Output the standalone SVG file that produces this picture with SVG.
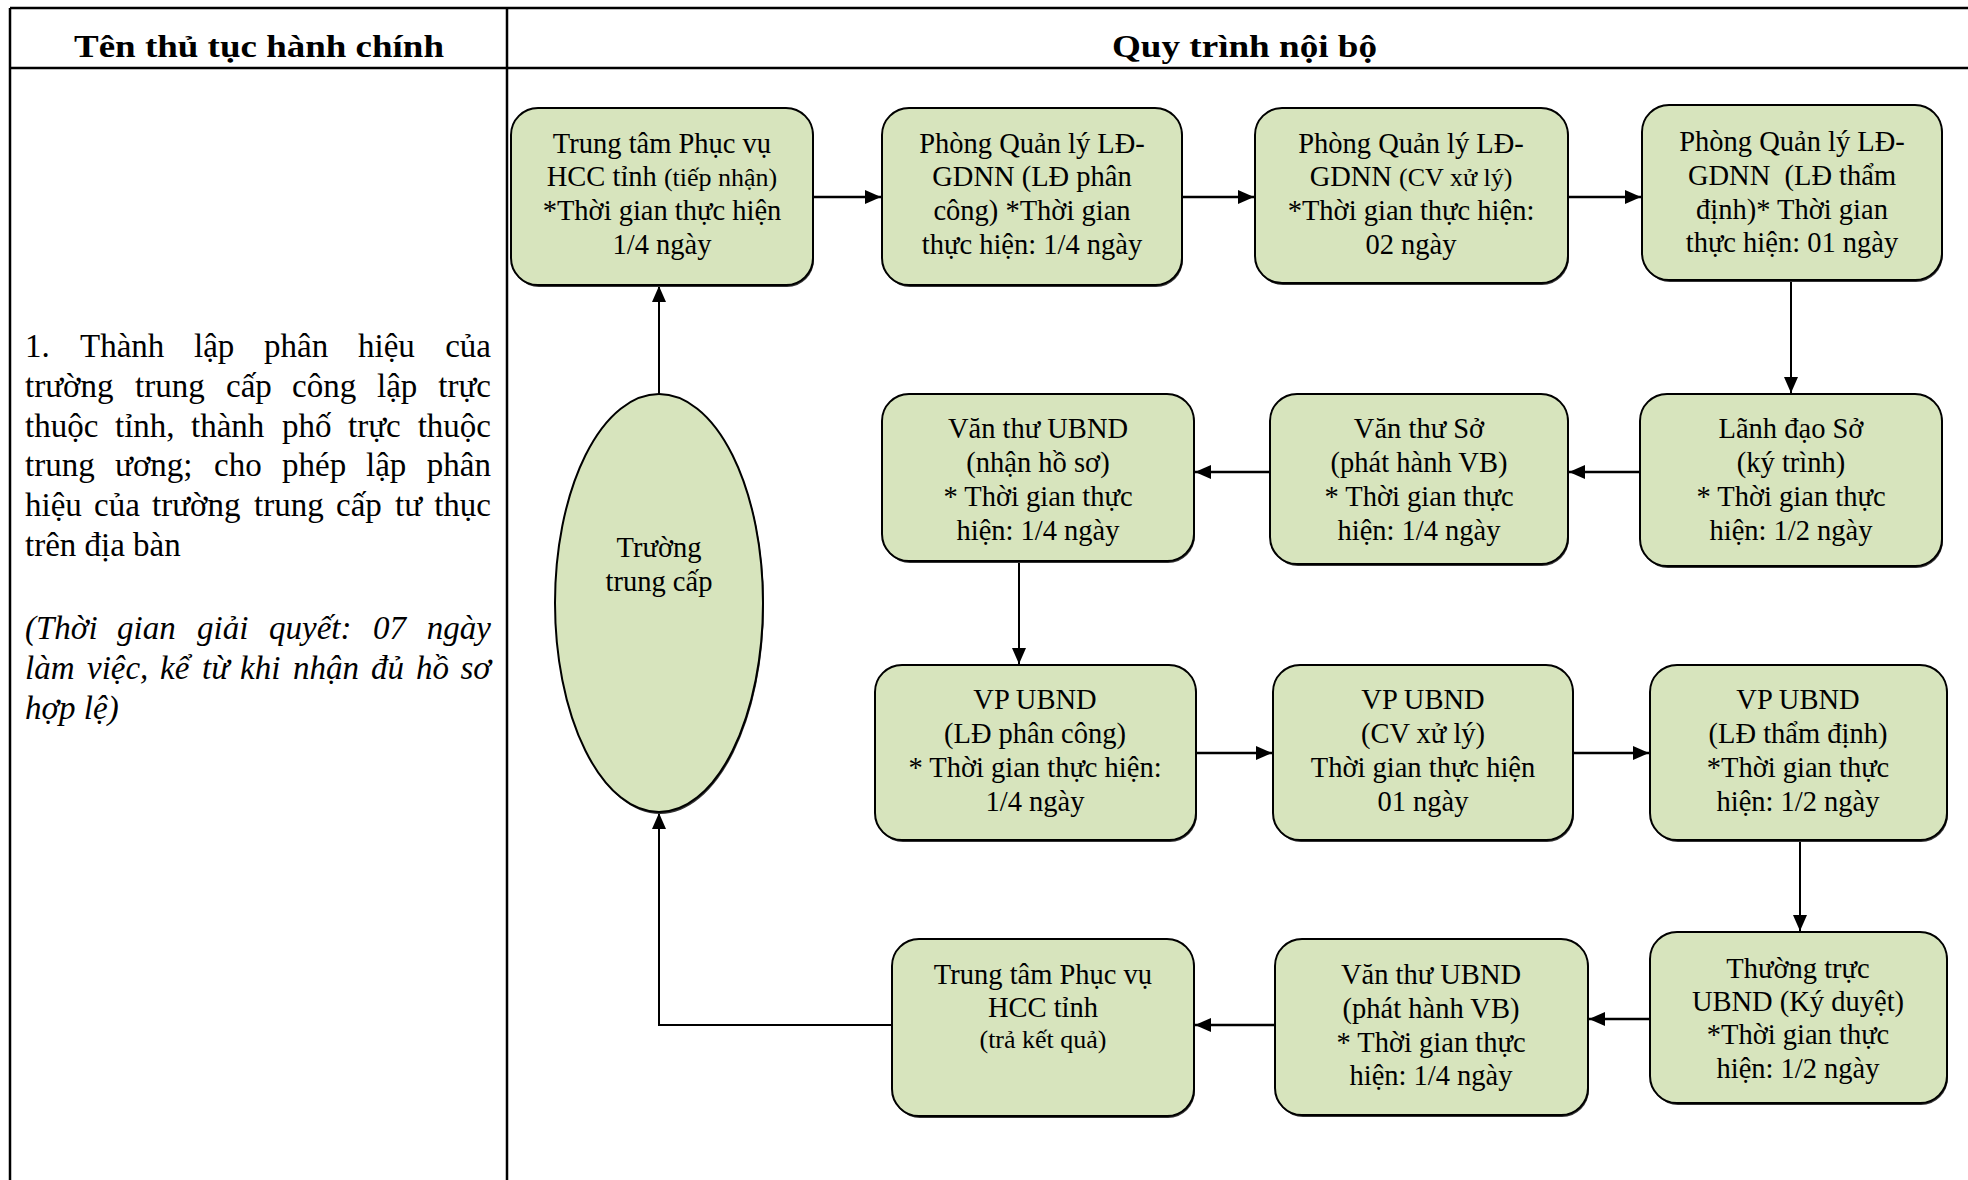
<svg xmlns="http://www.w3.org/2000/svg" width="1968" height="1180" viewBox="0 0 1968 1180">
<defs>
<style>
.tbl{stroke:#000;stroke-width:2.5;fill:none}
.hd{font-family:"Liberation Serif","Times New Roman",serif;font-weight:bold;font-size:31px;fill:#000}
.lt{font-family:"Liberation Serif","Times New Roman",serif;font-size:33px;fill:#000}
.it{font-style:italic}
.e{text-anchor:end}
.box{fill:#d7e4bd;stroke:#000;stroke-width:2}
.sh{fill:#333;stroke:none}
.t{font-family:"Liberation Serif","Times New Roman",serif;font-size:28.5px;fill:#000;text-anchor:middle}
.s{font-size:26px}
.c{stroke:#000;stroke-width:2.5;fill:none}
.cv{stroke:#000;stroke-width:2;fill:none}
</style>
<marker id="ah" markerUnits="userSpaceOnUse" markerWidth="16" markerHeight="14" viewBox="0 0 16 14" refX="16" refY="7" orient="auto">
<path d="M0,0 L16,7 L0,14 z" fill="#000"/>
</marker>
</defs>
<rect width="1968" height="1180" fill="#fff"/>
<g id="table">
<line class="tbl" x1="10" y1="8" x2="1968" y2="8"/>
<line class="tbl" x1="10" y1="68" x2="1968" y2="68"/>
<line class="tbl" x1="10" y1="8" x2="10" y2="1180"/>
<line class="tbl" x1="507" y1="8" x2="507" y2="1180"/>
<text class="hd" x="74" y="57" textLength="370" lengthAdjust="spacingAndGlyphs">Tên thủ tục hành chính</text>
<text class="hd" x="1112" y="57" textLength="265" lengthAdjust="spacingAndGlyphs">Quy trình nội bộ</text>
</g>
<g id="procedure">
<text class="lt" y="357"><tspan x="25">1.</tspan><tspan x="80">Thành</tspan><tspan x="194">lập</tspan><tspan x="264">phân</tspan><tspan x="358">hiệu</tspan><tspan x="491" class="e">của</tspan></text>
<text class="lt" y="397"><tspan x="25">trường</tspan><tspan x="135">trung</tspan><tspan x="226">cấp</tspan><tspan x="292">công</tspan><tspan x="377">lập</tspan><tspan x="491" class="e">trực</tspan></text>
<text class="lt" y="437"><tspan x="25">thuộc</tspan><tspan x="115">tỉnh,</tspan><tspan x="191">thành</tspan><tspan x="282">phố</tspan><tspan x="348">trực</tspan><tspan x="491" class="e">thuộc</tspan></text>
<text class="lt" y="476"><tspan x="25">trung</tspan><tspan x="115">ương;</tspan><tspan x="214">cho</tspan><tspan x="282">phép</tspan><tspan x="366">lập</tspan><tspan x="491" class="e">phân</tspan></text>
<text class="lt" y="516"><tspan x="25">hiệu</tspan><tspan x="94">của</tspan><tspan x="152">trường</tspan><tspan x="254">trung</tspan><tspan x="336">cấp</tspan><tspan x="395">tư</tspan><tspan x="491" class="e">thục</tspan></text>
<text class="lt" x="25" y="556">trên địa bàn</text>
<text class="lt it" y="639"><tspan x="25">(Thời</tspan><tspan x="117">gian</tspan><tspan x="197">giải</tspan><tspan x="269">quyết:</tspan><tspan x="373">07</tspan><tspan x="491" class="e">ngày</tspan></text>
<text class="lt it" y="679"><tspan x="25">làm</tspan><tspan x="87">việc,</tspan><tspan x="160">kể</tspan><tspan x="202">từ</tspan><tspan x="240">khi</tspan><tspan x="293">nhận</tspan><tspan x="371">đủ</tspan><tspan x="416">hồ</tspan><tspan x="491" class="e">sơ</tspan></text>
<text class="lt it" x="25" y="719">hợp lệ)</text>
</g>
<g id="connectors">
<line class="cv" x1="659" y1="394" x2="659" y2="286" marker-end="url(#ah)"/>
<line class="c" x1="813" y1="197" x2="881" y2="197" marker-end="url(#ah)"/>
<line class="c" x1="1182" y1="197" x2="1254" y2="197" marker-end="url(#ah)"/>
<line class="c" x1="1568" y1="197" x2="1641" y2="197" marker-end="url(#ah)"/>
<line class="cv" x1="1791" y1="280" x2="1791" y2="393" marker-end="url(#ah)"/>
<line class="c" x1="1640" y1="472" x2="1569" y2="472" marker-end="url(#ah)"/>
<line class="c" x1="1270" y1="472" x2="1195" y2="472" marker-end="url(#ah)"/>
<line class="cv" x1="1019" y1="561" x2="1019" y2="664" marker-end="url(#ah)"/>
<line class="c" x1="1196" y1="753" x2="1272" y2="753" marker-end="url(#ah)"/>
<line class="c" x1="1573" y1="753" x2="1649" y2="753" marker-end="url(#ah)"/>
<line class="cv" x1="1800" y1="840" x2="1800" y2="931" marker-end="url(#ah)"/>
<line class="c" x1="1650" y1="1019" x2="1589" y2="1019" marker-end="url(#ah)"/>
<line class="c" x1="1275" y1="1025" x2="1195" y2="1025" marker-end="url(#ah)"/>
<polyline class="cv" points="892,1025 659,1025 659,813" marker-end="url(#ah)"/>
</g>
<g id="n0">
<ellipse cx="660" cy="605" rx="104" ry="209" class="sh"/>
<ellipse cx="659" cy="603" rx="104" ry="209" class="box"/>
<text class="t" x="659" y="557">Trường</text>
<text class="t" x="659" y="591">trung cấp</text>
</g>
<g id="n1">
<rect class="sh" x="512" y="110" width="302" height="177" rx="27"/>
<rect class="box" x="511" y="108" width="302" height="177" rx="27"/>
<text class="t" x="662" y="153">Trung tâm Phục vụ</text>
<text class="t" x="662" y="186">HCC tỉnh <tspan class="s">(tiếp nhận)</tspan></text>
<text class="t" x="662" y="220">*Thời gian thực hiện</text>
<text class="t" x="662" y="254">1/4 ngày</text>
</g>
<g id="n2">
<rect class="sh" x="883" y="110" width="300" height="177" rx="27"/>
<rect class="box" x="882" y="108" width="300" height="177" rx="27"/>
<text class="t" x="1032" y="153">Phòng Quản lý LĐ-</text>
<text class="t" x="1032" y="186">GDNN (LĐ phân</text>
<text class="t" x="1032" y="220">công) *Thời gian</text>
<text class="t" x="1032" y="254">thực hiện: 1/4 ngày</text>
</g>
<g id="n3">
<rect class="sh" x="1256" y="110" width="313" height="175" rx="27"/>
<rect class="box" x="1255" y="108" width="313" height="175" rx="27"/>
<text class="t" x="1411" y="153">Phòng Quản lý LĐ-</text>
<text class="t" x="1411" y="186">GDNN <tspan class="s">(CV xử lý)</tspan></text>
<text class="t" x="1411" y="220">*Thời gian thực hiện:</text>
<text class="t" x="1411" y="254">02 ngày</text>
</g>
<g id="n4">
<rect class="sh" x="1643" y="107" width="300" height="175" rx="27"/>
<rect class="box" x="1642" y="105" width="300" height="175" rx="27"/>
<text class="t" x="1792" y="151" xml:space="preserve">Phòng Quản lý LĐ-</text>
<text class="t" x="1792" y="185" xml:space="preserve">GDNN  (LĐ thẩm</text>
<text class="t" x="1792" y="219">định)* Thời gian</text>
<text class="t" x="1792" y="252">thực hiện: 01 ngày</text>
</g>
<g id="n5">
<rect class="sh" x="883" y="396" width="312" height="167" rx="27"/>
<rect class="box" x="882" y="394" width="312" height="167" rx="27"/>
<text class="t" x="1038" y="438">Văn thư UBND</text>
<text class="t" x="1038" y="472">(nhận hồ sơ)</text>
<text class="t" x="1038" y="506">* Thời gian thực</text>
<text class="t" x="1038" y="540">hiện: 1/4 ngày</text>
</g>
<g id="n6">
<rect class="sh" x="1271" y="396" width="298" height="170" rx="27"/>
<rect class="box" x="1270" y="394" width="298" height="170" rx="27"/>
<text class="t" x="1419" y="438">Văn thư Sở</text>
<text class="t" x="1419" y="472">(phát hành VB)</text>
<text class="t" x="1419" y="506">* Thời gian thực</text>
<text class="t" x="1419" y="540">hiện: 1/4 ngày</text>
</g>
<g id="n7">
<rect class="sh" x="1641" y="396" width="302" height="172" rx="27"/>
<rect class="box" x="1640" y="394" width="302" height="172" rx="27"/>
<text class="t" x="1791" y="438">Lãnh đạo Sở</text>
<text class="t" x="1791" y="472">(ký trình)</text>
<text class="t" x="1791" y="506">* Thời gian thực</text>
<text class="t" x="1791" y="540">hiện: 1/2 ngày</text>
</g>
<g id="n8">
<rect class="sh" x="876" y="667" width="321" height="175" rx="27"/>
<rect class="box" x="875" y="665" width="321" height="175" rx="27"/>
<text class="t" x="1035" y="709">VP UBND</text>
<text class="t" x="1035" y="743">(LĐ phân công)</text>
<text class="t" x="1035" y="777">* Thời gian thực hiện:</text>
<text class="t" x="1035" y="811">1/4 ngày</text>
</g>
<g id="n9">
<rect class="sh" x="1274" y="667" width="300" height="175" rx="27"/>
<rect class="box" x="1273" y="665" width="300" height="175" rx="27"/>
<text class="t" x="1423" y="709">VP UBND</text>
<text class="t" x="1423" y="743">(CV xử lý)</text>
<text class="t" x="1423" y="777">Thời gian thực hiện</text>
<text class="t" x="1423" y="811">01 ngày</text>
</g>
<g id="n10">
<rect class="sh" x="1651" y="667" width="297" height="175" rx="27"/>
<rect class="box" x="1650" y="665" width="297" height="175" rx="27"/>
<text class="t" x="1798" y="709">VP UBND</text>
<text class="t" x="1798" y="743">(LĐ thẩm định)</text>
<text class="t" x="1798" y="777">*Thời gian thực</text>
<text class="t" x="1798" y="811">hiện: 1/2 ngày</text>
</g>
<g id="n11">
<rect class="sh" x="893" y="941" width="302" height="177" rx="27"/>
<rect class="box" x="892" y="939" width="302" height="177" rx="27"/>
<text class="t" x="1043" y="984">Trung tâm Phục vụ</text>
<text class="t" x="1043" y="1017">HCC tỉnh</text>
<text class="t s" x="1043" y="1048">(trả kết quả)</text>
</g>
<g id="n12">
<rect class="sh" x="1276" y="941" width="313" height="176" rx="27"/>
<rect class="box" x="1275" y="939" width="313" height="176" rx="27"/>
<text class="t" x="1431" y="984">Văn thư UBND</text>
<text class="t" x="1431" y="1018">(phát hành VB)</text>
<text class="t" x="1431" y="1052">* Thời gian thực</text>
<text class="t" x="1431" y="1085">hiện: 1/4 ngày</text>
</g>
<g id="n13">
<rect class="sh" x="1651" y="934" width="297" height="171" rx="27"/>
<rect class="box" x="1650" y="932" width="297" height="171" rx="27"/>
<text class="t" x="1798" y="978">Thường trực</text>
<text class="t" x="1798" y="1011">UBND (Ký duyệt)</text>
<text class="t" x="1798" y="1044">*Thời gian thực</text>
<text class="t" x="1798" y="1078">hiện: 1/2 ngày</text>
</g>
</svg>
